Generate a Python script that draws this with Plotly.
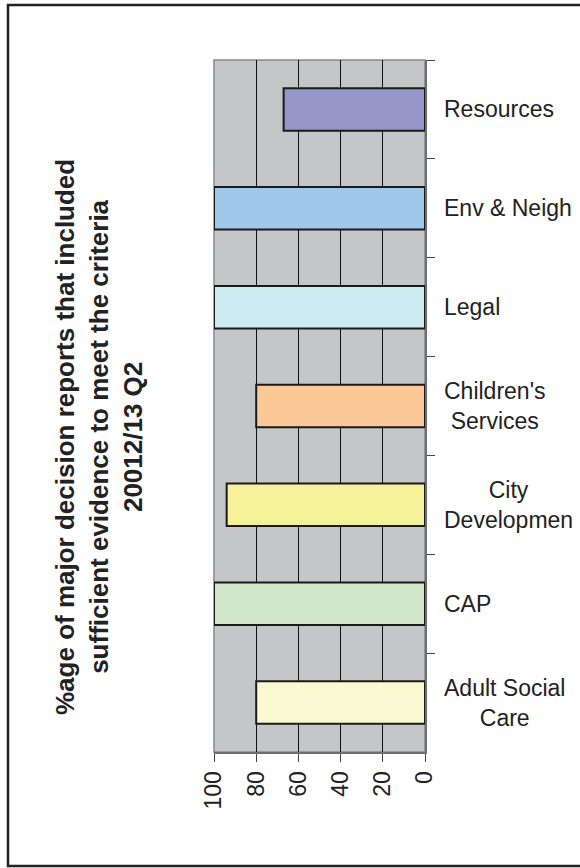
import plotly.graph_objects as go

# Data (top to bottom as displayed)
categories = ["Resources", "Env & Neigh", "Legal", "Children's Services",
              "City Development", "CAP", "Adult Social Care"]
label_text = ["Resources", "Env & Neigh", "Legal", "Children's<br>Services",
              "City<br>Developmen", "CAP", "Adult Social<br>Care"]
values = [67, 100, 100, 80, 94, 100, 80]
bar_colors = ["#9696C8", "#A0C8EA", "#CCECF2", "#FBC898",
              "#F6F29A", "#D2E7C9", "#FBF9D2"]
x_ticks = [0, 20, 40, 60, 80, 100]

title_text = ("%age of major decision reports that included<br>"
              "sufficient evidence to meet the criteria<br>"
              "20012/13 Q2")

FONT = "Arial, 'Liberation Sans', sans-serif"
W, H = 580, 868
L, R, T, B = 214, 425, 60, 752

fig = go.Figure()
fig.add_trace(go.Bar(
    x=values, y=categories, orientation="h",
    marker=dict(color=bar_colors, line=dict(color="#1a1a1a", width=2)),
    width=0.43, showlegend=False, hoverinfo="x+y",
))

fig.update_layout(
    width=W, height=H,
    margin=dict(l=L, r=W - R, t=T, b=H - B, pad=0),
    paper_bgcolor="white",
    plot_bgcolor="#C5C6C8",
    font=dict(family=FONT, size=23, color="#222222"),
    xaxis=dict(
        range=[100, 0], tickvals=x_ticks, ticktext=[str(v) for v in x_ticks],
        tickangle=-90, ticks="outside", ticklen=8, tickcolor="#444444", tickwidth=1,
        showgrid=True, gridcolor="#111111", gridwidth=1,
        showline=True, linecolor="#6e6e6e", linewidth=2,
        zeroline=False, tickfont=dict(size=23, color="#222222"),
        fixedrange=True,
    ),
    yaxis=dict(
        side="right", autorange="reversed", type="category",
        tickson="boundaries", ticks="outside", ticklen=8, tickcolor="#444444",
        tickwidth=1, showticklabels=False, showgrid=False,
        showline=True, linecolor="#6e6e6e", linewidth=2, zeroline=False,
        fixedrange=True,
    ),
)

# Category labels (centered multi-line like the original)
for cat, txt in zip(categories, label_text):
    fig.add_annotation(
        x=1, xref="paper", y=cat, yref="y", text=txt, showarrow=False,
        xanchor="left", yanchor="middle", xshift=17, align="center",
        font=dict(family=FONT, size=23, color="#222222"),
    )

pw, ph = R - L, B - T
# Title
fig.add_annotation(
    x=(99 - L) / pw, xref="paper", y=(B - 437) / ph, yref="paper",
    text="<b>" + title_text + "</b>", showarrow=False, textangle=-90,
    xanchor="center", yanchor="middle", align="center",
    font=dict(family=FONT, size=26, color="#222222"),
)

# Plot-area border (grey) and outer frame
fig.add_shape(type="rect", xref="paper", yref="paper", x0=0, x1=1, y0=0, y1=1,
              line=dict(color="#8a8a8a", width=1.5), layer="below")
fig.add_shape(type="rect", xref="paper", yref="paper",
              x0=(8 - L) / pw, x1=(620 - L) / pw,
              y0=(B - 866) / ph, y1=(B - 5) / ph,
              line=dict(color="#222222", width=2.5), fillcolor="rgba(0,0,0,0)",
              layer="above")

fig.write_html("out.html")
